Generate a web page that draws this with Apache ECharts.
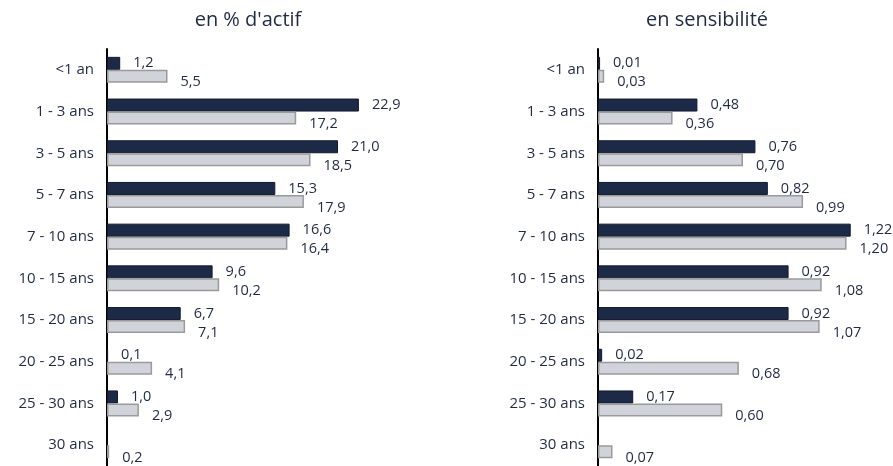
<!DOCTYPE html>
<html><head><meta charset="utf-8">
<script src="https://cdn.jsdelivr.net/npm/echarts@6/dist/echarts.min.js"></script>
<style>html,body{margin:0;padding:0;background:#fff}#c{width:893px;height:466px}</style>
</head><body><div id="c"></div>
<script>
const categories = ['<1 an','1 - 3 ans','3 - 5 ans','5 - 7 ans','7 - 10 ans','10 - 15 ans','15 - 20 ans','20 - 25 ans','25 - 30 ans','30 ans'];
const actifDark = [1.2, 22.9, 21.0, 15.3, 16.6, 9.6, 6.7, 0.1, 1.0, null];
const actifGrey = [5.5, 17.2, 18.5, 17.9, 16.4, 10.2, 7.1, 4.1, 2.9, 0.2];
const sensDark = [0.01, 0.48, 0.76, 0.82, 1.22, 0.92, 0.92, 0.02, 0.17, null];
const sensGrey = [0.03, 0.36, 0.70, 0.99, 1.20, 1.08, 1.07, 0.68, 0.60, 0.07];
const titles = ["en % d'actif", 'en sensibilité'];

const FONT = '"Open Sans", sans-serif';
const TXT = '#1f2a44';
const chart = echarts.init(document.getElementById('c'));
function fmt(d){ return p => p.value == null ? '' : p.value.toFixed(d).replace('.', ','); }
function yAx(i){
  return {type:'category', gridIndex:i, data:categories, inverse:true,
    axisLine:{show:true, lineStyle:{color:'#000', width:2}}, axisTick:{show:false},
    axisLabel:{color:TXT, fontFamily:FONT, fontSize:15, margin:13, padding:[4,0,0,0]}};
}
function xAx(i, max){
  return {type:'value', gridIndex:i, min:0, max:max, show:false, splitLine:{show:false}};
}
function darkS(i, data, d){
  return {type:'bar', xAxisIndex:i, yAxisIndex:i, data:data, barWidth:13, barGap:'0%',
    itemStyle:{color:'#1c2a48', borderColor:'#111a2e', borderWidth:1},
    label:{show:true, position:'right', distance:13, color:TXT, fontFamily:FONT, fontSize:14.5, formatter:fmt(d)}};
}
function greyS(i, data, d){
  return {type:'bar', xAxisIndex:i, yAxisIndex:i, data:data, barWidth:13, barGap:'0%',
    itemStyle:{color:'#d0d3da', borderColor:'#9a9a9a', borderWidth:1.5},
    label:{show:true, position:'right', distance:13, offset:[0,6], color:TXT, fontFamily:FONT, fontSize:14.5, formatter:fmt(d)}};
}
chart.setOption({
  animation:false,
  title:[
    {text:titles[0], left:243, top:5, textAlign:'center', textStyle:{color:TXT, fontFamily:FONT, fontSize:20, fontWeight:'normal'}},
    {text:titles[1], left:702, top:5, textAlign:'center', textStyle:{color:TXT, fontFamily:FONT, fontSize:20, fontWeight:'normal'}}
  ],
  grid:[
    {left:107, top:49, width:330, height:418},
    {left:598, top:49, width:290, height:418}
  ],
  xAxis:[xAx(0,30), xAx(1,1.4)],
  yAxis:[yAx(0), yAx(1)],
  series:[darkS(0,actifDark,1), greyS(0,actifGrey,1), darkS(1,sensDark,2), greyS(1,sensGrey,2)]
});
</script></body></html>
